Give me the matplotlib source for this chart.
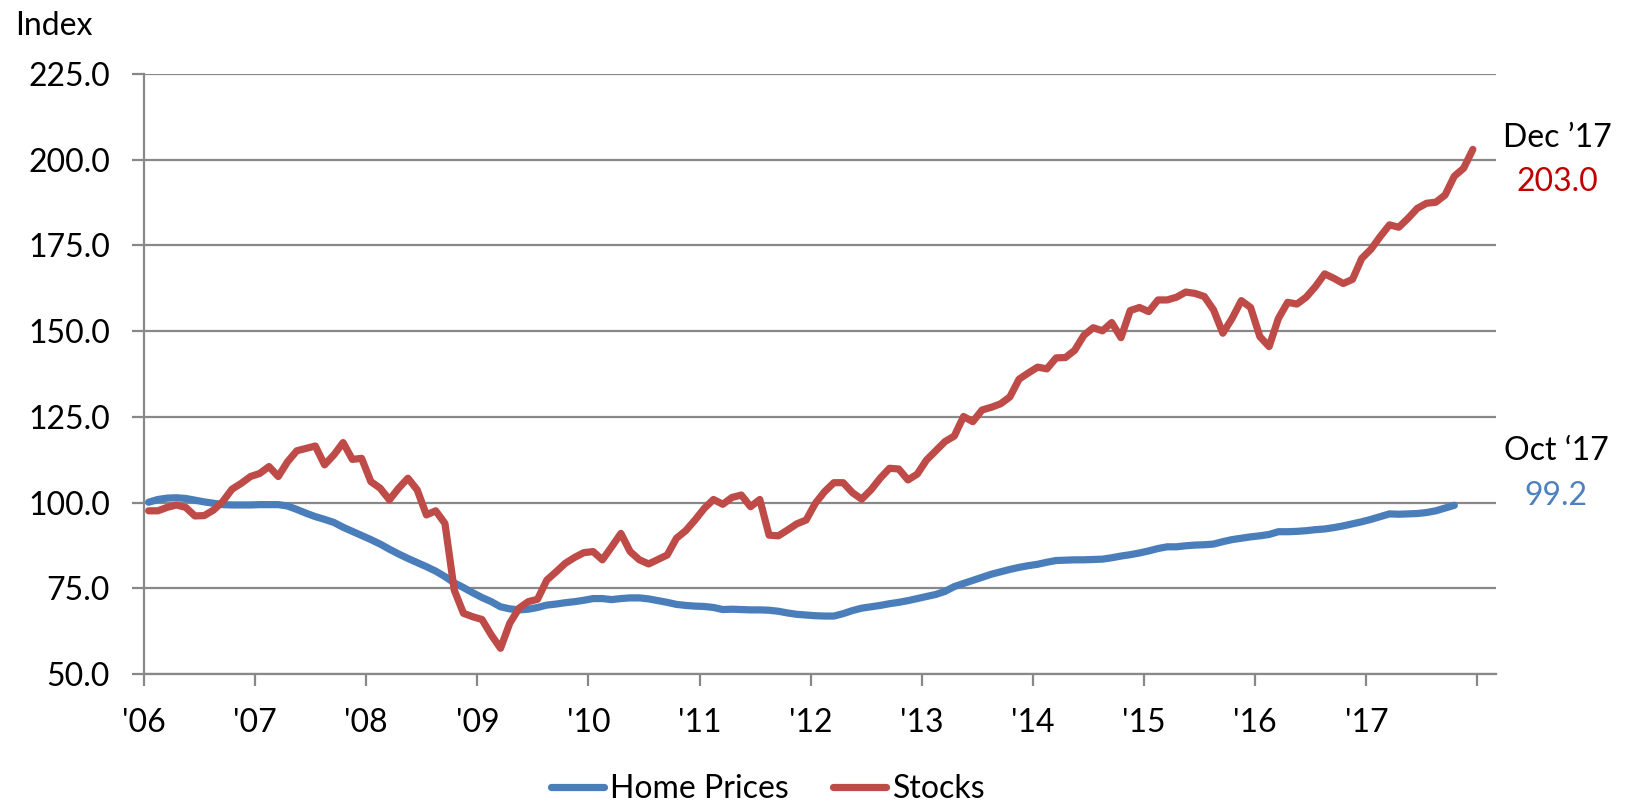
import matplotlib.pyplot as plt
import numpy as np

plt.rcParams['font.family'] = ['Lato', 'DejaVu Sans']

# monthly, Jan '06 .. Dec '17
stocks = [
    97.6, 97.6, 98.6, 99.3, 98.6, 96.1, 96.2, 97.8, 100.3, 103.9, 105.6, 107.6,
    108.5, 110.5, 107.6, 111.9, 115.1, 115.8, 116.5, 111.0, 113.9, 117.5, 112.6, 112.9,
    106.1, 104.2, 100.8, 104.2, 107.1, 103.7, 96.4, 97.6, 93.9, 74.5, 67.7, 66.7,
    65.9, 61.4, 57.5, 64.8, 69.2, 71.1, 71.8, 77.4, 79.8, 82.3, 84.0, 85.4,
    85.7, 83.3, 87.1, 91.0, 85.7, 83.3, 82.1, 83.4, 84.7, 89.6, 91.8, 94.9,
    98.3, 100.9, 99.5, 101.5, 102.2, 98.8, 100.9, 90.5, 90.3, 92.0, 93.8, 94.9,
    99.8, 103.2, 105.8, 105.8, 102.9, 101.0, 103.7, 107.1, 110.0, 109.8, 106.6, 108.3,
    112.4, 115.1, 117.8, 119.4, 125.1, 123.6, 127.0, 127.8, 128.8, 130.8, 136.0, 137.8,
    139.5, 139.0, 142.2, 142.3, 144.4, 148.8, 151.0, 150.1, 152.5, 148.1, 156.0, 156.9,
    155.7, 159.1, 159.1, 159.9, 161.4, 161.0, 160.1, 156.2, 149.4, 153.7, 158.9, 156.9,
    148.4, 145.5, 153.7, 158.4, 157.9, 159.9, 163.0, 166.7, 165.4, 163.9, 165.1, 171.2,
    173.9, 177.6, 181.0, 180.3, 182.9, 185.8, 187.3, 187.6, 189.7, 195.2, 197.5, 203.0,
]

# monthly, Jan '06 .. Oct '17
home_prices = [
    100.1, 100.9, 101.3, 101.4, 101.2, 100.7, 100.2, 99.8, 99.4, 99.3, 99.3, 99.3,
    99.4, 99.4, 99.4, 99.0, 98.0, 96.9, 95.9, 95.1, 94.2, 92.8, 91.6, 90.4,
    89.2, 87.9, 86.4, 85.0, 83.7, 82.5, 81.3, 80.0, 78.4, 76.6, 75.2, 73.7,
    72.3, 71.1, 69.6, 69.0, 68.7, 68.9, 69.4, 70.1, 70.4, 70.8, 71.1, 71.5,
    72.0, 72.0, 71.7, 72.0, 72.2, 72.2, 71.9, 71.4, 70.9, 70.3, 70.0, 69.8,
    69.7, 69.4, 68.8, 68.9, 68.8, 68.7, 68.7, 68.6, 68.3, 67.8, 67.4, 67.2,
    67.0, 66.9, 66.9, 67.6, 68.5, 69.2, 69.6, 70.0, 70.5, 70.9, 71.4, 72.0,
    72.6, 73.2, 74.1, 75.5, 76.4, 77.3, 78.2, 79.1, 79.8, 80.5, 81.1, 81.6,
    82.0, 82.6, 83.1, 83.2, 83.3, 83.3, 83.4, 83.5, 83.9, 84.4, 84.8, 85.3,
    85.9, 86.6, 87.1, 87.1, 87.4, 87.6, 87.7, 87.9, 88.6, 89.2, 89.6, 90.0,
    90.3, 90.7, 91.5, 91.5, 91.6, 91.8, 92.1, 92.3, 92.7, 93.2, 93.8, 94.4,
    95.1, 95.9, 96.7, 96.6, 96.7, 96.8, 97.1, 97.6, 98.4, 99.2,
]

year_labels = ["'06", "'07", "'08", "'09", "'10", "'11", "'12", "'13",
               "'14", "'15", "'16", "'17", ""]
y_ticks = [50, 75, 100, 125, 150, 175, 200, 225]

BLUE = '#4A7EBB'
RED = '#BE4B48'
GRID = '#888888'
FS = 23

fig = plt.figure(figsize=(16.3, 8.06), dpi=100)
ax = fig.add_axes([144 / 1630, 1 - 674 / 806, 1352 / 1630, 600 / 806])

x_home = np.arange(len(home_prices)) + 0.5
x_stocks = np.arange(len(stocks)) + 0.5
ax.plot(x_home, home_prices, color=BLUE, lw=5.2, solid_joinstyle='round',
        solid_capstyle='round', label='Home Prices', zorder=3)
ax.plot(x_stocks, stocks, color=RED, lw=5.2, solid_joinstyle='round',
        solid_capstyle='round', label='Stocks', zorder=4)

ax.set_xlim(0, 146)
ax.set_ylim(50, 225)
ax.set_yticks(y_ticks)
ax.set_yticklabels([f"{v:.1f}" for v in y_ticks])
ax.set_xticks(np.arange(0, 12 * len(year_labels), 12))
ax.set_xticklabels(year_labels)

ax.grid(axis='y', color=GRID, lw=1.6, zorder=0)
ax.set_axisbelow(True)
for s in ['top', 'right']:
    ax.spines[s].set_visible(False)
for s in ['left', 'bottom']:
    ax.spines[s].set_color(GRID)
    ax.spines[s].set_linewidth(1.6)
ax.tick_params(axis='both', colors=GRID, width=1.6, length=8.5,
               labelsize=FS, labelcolor='black', pad=16)

fig.text(15 / 1630, 1 - 35 / 806, 'Index', fontsize=FS, va='baseline')

fig.text(1557 / 1630, 1 - 147 / 806, 'Dec \u201917', fontsize=FS,
         ha='center', va='baseline')
fig.text(1557 / 1630, 1 - 191 / 806, f"{stocks[-1]:.1f}", fontsize=FS,
         ha='center', va='baseline', color='#C00000')
fig.text(1556 / 1630, 1 - 460 / 806, 'Oct \u201817', fontsize=FS,
         ha='center', va='baseline')
fig.text(1556 / 1630, 1 - 505 / 806, f"{home_prices[-1]:.1f}", fontsize=FS,
         ha='center', va='baseline', color='#4F81BD')

fig.legend(loc='center', bbox_to_anchor=(768 / 1630, 1 - 789 / 806), ncol=2,
           frameon=False, fontsize=FS, handlelength=1.65, handletextpad=0.2,
           columnspacing=1.4, borderpad=0)

fig.savefig('out.png', dpi=100)
